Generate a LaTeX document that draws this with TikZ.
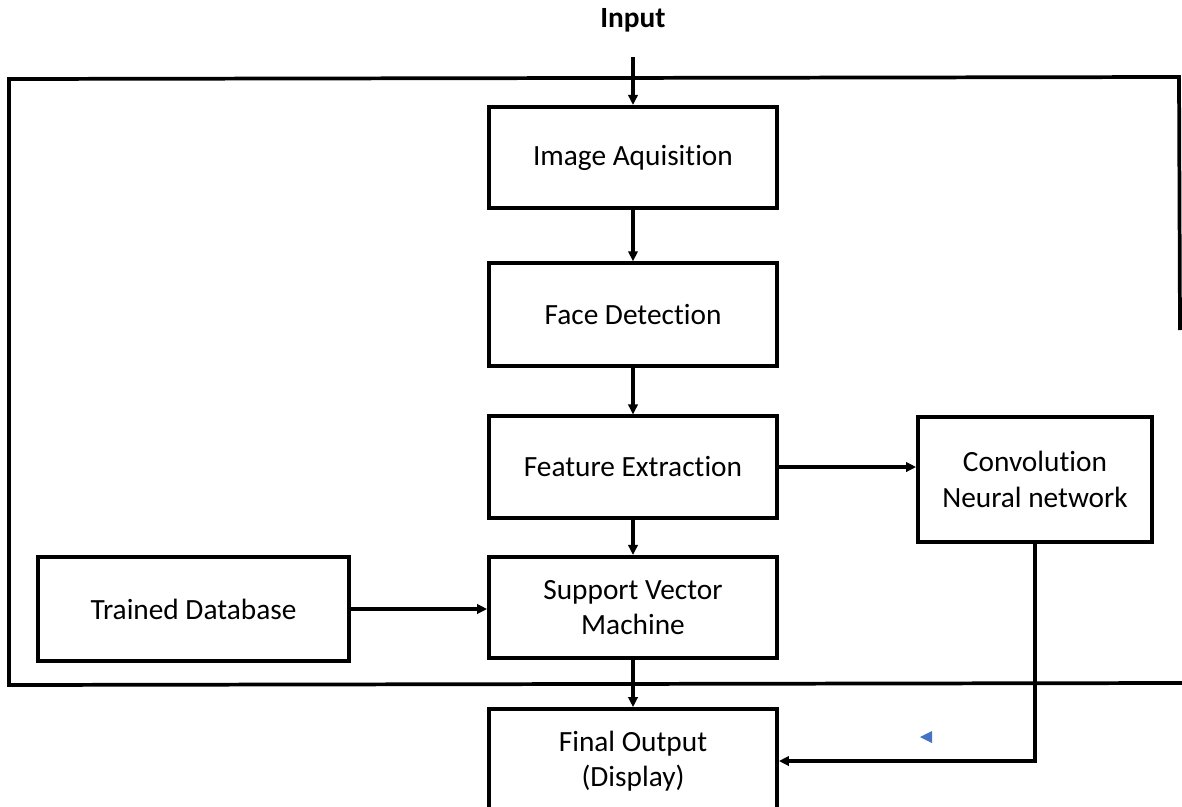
\documentclass[tikz,border=0pt]{standalone}
\usepackage{fontspec}
\setmainfont{Carlito}[Ligatures=NoCommon]
\usetikzlibrary{arrows.meta}

\begin{document}
\begin{tikzpicture}[x=0.75pt,y=-0.75pt,
        line width=2.8pt,>={Triangle[length=7.5pt,width=7pt]},
        every node/.style={align=center,font=\fontsize{22}{26.5}\selectfont},
        stage/.style={draw,rectangle,inner sep=2pt,minimum width=216pt,minimum height=76pt}]

    \useasboundingbox (0,0) rectangle (1182,807);
    \clip (0,0) rectangle (1182,807);

    % frame
    \draw (1180,330) -- (1179,77) -- (9,79) -- (9,685) -- (1182,683);

    \node[font=\fontsize{22}{26}\selectfont\bfseries] (input) at (633,20) {Input};
    \coordinate (inputtip) at (633,57);

    \node[stage] (acq)   at (633,157.5) {Image Aquisition};
    \node[stage,minimum height=77pt] (face)  at (633,314.5) {Face Detection};
    \node[stage] (feat)  at (633,467) {Feature Extraction};
    \node[stage] (svm)   at (633,607.5) {Support Vector\\Machine};
    \node[stage,minimum height=78pt] (final) at (633,761) {Final Output\\(Display)};
    \node[stage,minimum width=233pt,minimum height=78pt] (db) at (193.5,609) {Trained Database};
    \node[stage,minimum width=175.5pt,minimum height=93.75pt] (cnn) at (1035,479.5) {Convolution\\Neural network};

    \draw[->] (inputtip) -- (acq);
    \draw[->] (acq) -- (face);
    \draw[->] (face) -- (feat);
    \draw[->] (feat) -- (svm);
    \draw[->] (svm) -- (final);
    \draw[->] (db.east) -- (db.east -| svm.west);
    \draw[->] (feat.east) -- (feat.east -| cnn.west);
    \draw[->] (cnn.south) |- (final.east);

    % marker
    \fill[color={rgb,255:red,68;green,114;blue,196}] (920,737) -- (932,731) -- (932,743) -- cycle;
\end{tikzpicture}
\end{document}
